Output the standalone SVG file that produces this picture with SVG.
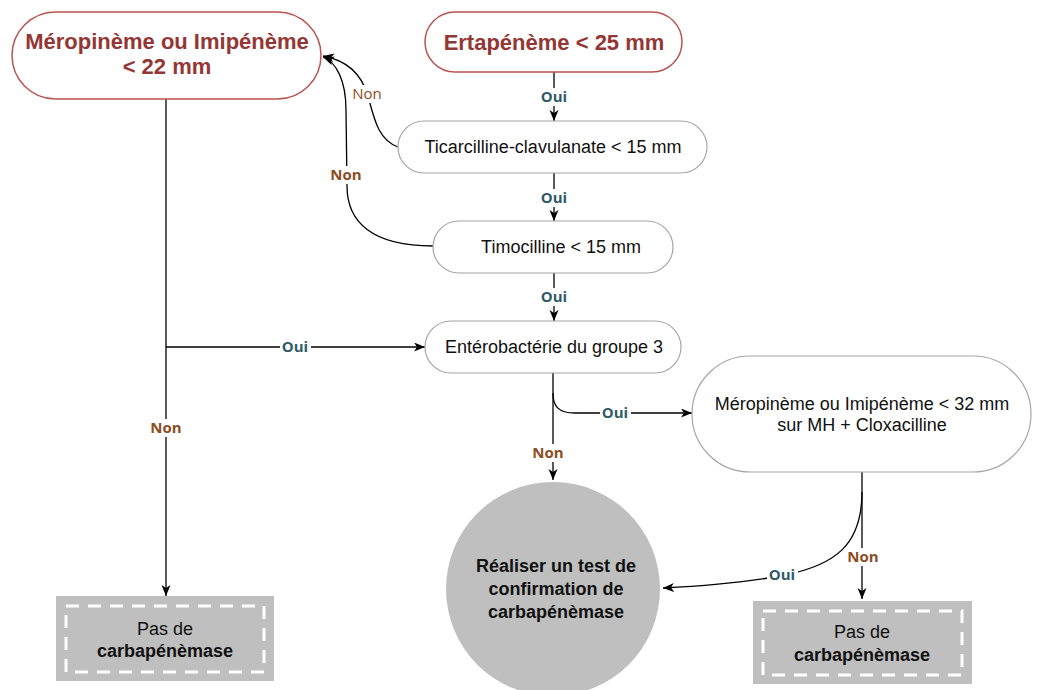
<svg xmlns="http://www.w3.org/2000/svg" width="1043" height="690" viewBox="0 0 1043 690">
<defs>
<style>
.red{fill:#fff;stroke:#b85450;stroke-width:1.5}
.gry{fill:#fff;stroke:#a6a6a6;stroke-width:1.2}
.tr{font-family:"Liberation Sans",Arial,sans-serif;font-size:22px;font-weight:bold;fill:#943634;text-anchor:middle}
.t{font-family:"Liberation Sans",Arial,sans-serif;font-size:18px;fill:#111;text-anchor:middle}
.b{font-weight:bold}
.box{fill:#bfbfbf;stroke:#bfbfbf;stroke-width:2}
.inner{fill:none;stroke:#fff;stroke-width:3;stroke-dasharray:13 9}
.ln{fill:none;stroke:#000;stroke-width:1.3}
.la{marker-end:url(#arr)}
.lbg{fill:#fff}
.oui{font-family:"Open Sans","DejaVu Sans",sans-serif;font-size:15px;font-weight:bold;fill:#2f5b68;text-anchor:middle}
.non{font-family:"Open Sans","DejaVu Sans",sans-serif;font-size:15px;font-weight:bold;fill:#8c4d24;text-anchor:middle}
.nonr{font-weight:normal}
</style>
<marker id="arr" markerUnits="userSpaceOnUse" markerWidth="12" markerHeight="10" refX="11" refY="4.5" orient="auto">
<path d="M0,0 L11,4.5 L0,9 L3,4.5 z" fill="#000"/>
</marker>
</defs>
<rect width="1043" height="690" fill="#fff"/>

<g id="connectors">
<path class="ln" d="M554,72 V121" marker-end="url(#arr)"/>
<path class="ln" d="M554,173 V221" marker-end="url(#arr)"/>
<path class="ln" d="M554,273 V321" marker-end="url(#arr)"/>
<path class="ln" d="M398,147 C378,140 374,118 368,96 C361,72 345,60 323,56" marker-end="url(#arr)"/>
<path class="ln" d="M433,246 C372,246 347,222 347,186 L346,110 C346,80 336,62 323,57" marker-end="url(#arr)"/>
<path class="ln" d="M166,99 V596" marker-end="url(#arr)"/>
<path class="ln" d="M166,347 H425" marker-end="url(#arr)"/>
<path class="ln" d="M553,373 V480" marker-end="url(#arr)"/>
<path class="ln" d="M553,393 C553,406 558,413 575,413 H692" marker-end="url(#arr)"/>
<path class="ln" d="M862,472 V599" marker-end="url(#arr)"/>
<path class="ln" d="M862,492 C862,545 835,565 785,575 C745,583 705,586 663,588" marker-end="url(#arr)"/>

<rect class="lbg" x="539" y="88" width="30" height="18"/><text class="oui" x="554" y="102">Oui</text>
<rect class="lbg" x="539" y="189" width="30" height="18"/><text class="oui" x="554" y="203">Oui</text>
<rect class="lbg" x="539" y="288" width="30" height="18"/><text class="oui" x="554" y="302">Oui</text>
<rect class="lbg" x="351" y="85" width="32" height="18"/><text class="non nonr" x="367" y="99">Non</text>
<rect class="lbg" x="330" y="166" width="33" height="18"/><text class="non" x="346" y="180">Non</text>
<rect class="lbg" x="280" y="338" width="31" height="18"/><text class="oui" x="295" y="352">Oui</text>
<rect class="lbg" x="149" y="419" width="34" height="18"/><text class="non" x="166" y="433">Non</text>
<rect class="lbg" x="600" y="404" width="31" height="18"/><text class="oui" x="615" y="418">Oui</text>
<rect class="lbg" x="531" y="444" width="34" height="18"/><text class="non" x="548" y="458">Non</text>
<rect class="lbg" x="846" y="548" width="34" height="18"/><text class="non" x="863" y="562">Non</text>
<rect class="lbg" x="767" y="566" width="31" height="18"/><text class="oui" x="782" y="580">Oui</text>
</g>

<g id="n-meropeneme22">
<rect class="red" x="12" y="12" width="309" height="87" rx="43.5"/>
<text class="tr" x="167" y="49">Méropinème ou Imipénème</text>
<text class="tr" x="167" y="74">&lt; 22 mm</text>
</g>
<g id="n-ertapeneme">
<rect class="red" x="425" y="12" width="257" height="60" rx="30"/>
<text class="tr" x="554" y="50">Ertapénème &lt; 25 mm</text>
</g>
<g id="n-ticarcilline">
<rect class="gry" x="398" y="121" width="309" height="52" rx="26"/>
<text class="t" x="553" y="153">Ticarcilline-clavulanate &lt; 15 mm</text>
</g>
<g id="n-timocilline">
<rect class="gry" x="433" y="221" width="240" height="52" rx="26"/>
<text class="t" x="561" y="253">Timocilline &lt; 15 mm</text>
</g>
<g id="n-enterobacterie">
<rect class="gry" x="425" y="321" width="256" height="52" rx="26"/>
<text class="t" x="554" y="353">Entérobactérie du groupe 3</text>
</g>
<g id="n-meropeneme32">
<rect class="gry" x="692" y="356" width="339" height="116" rx="58"/>
<text class="t" x="862" y="410">Méropinème ou Imipénème &lt; 32 mm</text>
<text class="t" x="862" y="431">sur MH + Cloxacilline</text>
</g>
<g id="n-test">
<circle cx="553" cy="589" r="107" fill="#bfbfbf"/>
<text class="t b" x="556" y="572">Réaliser un test de</text>
<text class="t b" x="556" y="595">confirmation de</text>
<text class="t b" x="556" y="618">carbapénèmase</text>
</g>
<g id="n-pas1">
<rect class="box" x="57" y="597" width="216" height="83"/>
<rect class="inner" x="66" y="606" width="198" height="66"/>
<text class="t" x="165" y="635">Pas de</text>
<text class="t b" x="165" y="657">carbapénèmase</text>
</g>
<g id="n-pas2">
<rect class="box" x="754" y="602" width="217" height="81"/>
<rect class="inner" x="763" y="611" width="199" height="64"/>
<text class="t" x="862" y="638">Pas de</text>
<text class="t b" x="862" y="661">carbapénèmase</text>
</g>
</svg>
